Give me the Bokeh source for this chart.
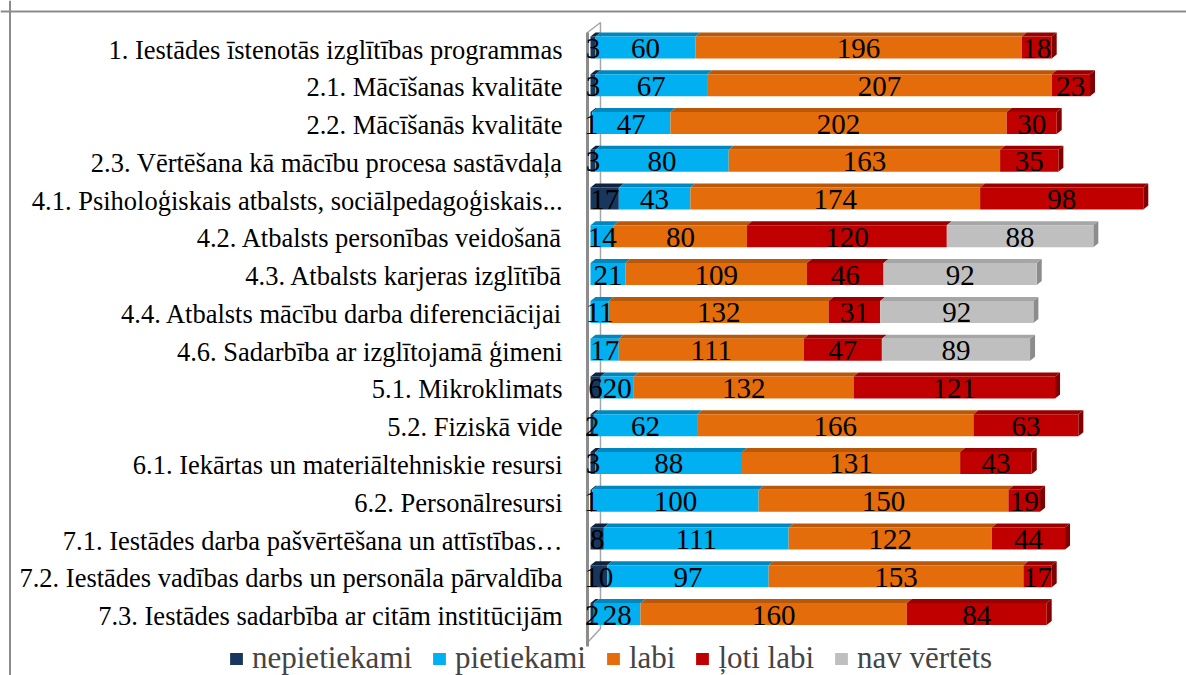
from bokeh.plotting import figure
from bokeh.models import Range1d, Span, ColumnDataSource, Legend, LegendItem
from bokeh.embed import file_html
from bokeh.resources import INLINE
from bokeh.core.properties import value

categories = [
    "1. Iestādes īstenotās izglītības programmas",
    "2.1. Mācīšanas kvalitāte",
    "2.2. Mācīšanās kvalitāte",
    "2.3. Vērtēšana kā mācību procesa sastāvdaļa",
    "4.1. Psiholoģiskais atbalsts, sociālpedagoģiskais...",
    "4.2. Atbalsts personības veidošanā",
    "4.3. Atbalsts karjeras izglītībā",
    "4.4. Atbalsts mācību darba diferenciācijai",
    "4.6. Sadarbība ar izglītojamā ģimeni",
    "5.1. Mikroklimats",
    "5.2. Fiziskā vide",
    "6.1. Iekārtas un materiāltehniskie resursi",
    "6.2. Personālresursi",
    "7.1. Iestādes darba pašvērtēšana un attīstības…",
    "7.2. Iestādes vadības darbs un personāla pārvaldība",
    "7.3. Iestādes sadarbība ar citām institūcijām",
]
series_names = ["nepietiekami", "pietiekami", "labi", "ļoti labi", "nav vērtēts"]
nepietiekami = [3, 3, 1, 3, 17, 0, 0, 0, 0, 6, 2, 3, 1, 8, 10, 2]
pietiekami = [60, 67, 47, 80, 43, 14, 21, 11, 17, 20, 62, 88, 100, 111, 97, 28]
labi = [196, 207, 202, 163, 174, 80, 109, 132, 111, 132, 166, 131, 150, 122, 153, 160]
loti_labi = [18, 23, 30, 35, 98, 120, 46, 31, 47, 121, 63, 43, 19, 44, 17, 84]
nav_vertets = [0, 0, 0, 0, 0, 88, 92, 92, 89, 0, 0, 0, 0, 0, 0, 0]

series_values = [nepietiekami, pietiekami, labi, loti_labi, nav_vertets]
front_colors = ["#17375E", "#00B0F0", "#E46C0A", "#C00000", "#BFBFBF"]
top_colors = ["#0E2340", "#0088BE", "#B85808", "#9A0000", "#A6A6A6"]
side_colors = ["#0B1B33", "#00709C", "#9C4A06", "#820000", "#8C8C8C"]

# ---- layout (pixels) ----
W, H = 1186, 675
PX = 1.665          # pixels per unit
ZERO_PX = 590       # x pixel of value 0
ROW_PX = 37.77      # row spacing
TOP_ROW_PX = 47     # y pixel (from top) of first row centre
FRONT_H = 22 / ROW_PX
DX = 5 / PX
DY = 4 / ROW_PX

n = len(categories)
x0 = -ZERO_PX / PX
x1 = x0 + W / PX
y1 = (n - 1) + TOP_ROW_PX / ROW_PX
y0 = y1 - H / ROW_PX


def page_y(py):
    return y1 - py / ROW_PX


p = figure(width=W, height=H, output_backend="svg", toolbar_location=None,
           x_range=Range1d(x0, x1), y_range=Range1d(y0, y1),
           min_border=0, min_border_left=0, min_border_right=0,
           min_border_top=0, min_border_bottom=0)
p.xaxis.visible = False
p.yaxis.visible = False
p.xgrid.visible = False
p.ygrid.visible = False
p.outline_line_color = None
p.background_fill_color = "white"
p.border_fill_color = "white"

# chart border (left and top)
p.add_layout(Span(location=x0 + 9.5 / PX, dimension="height", line_color="#8C8C8C", line_width=2))
p.add_layout(Span(location=y1 - 11 / ROW_PX, dimension="width", line_color="#8C8C8C", line_width=2))

# 3D wall
wl, wr = -1.8, 6.0
p.patch(x=[wl, wr, wr, wl], y=[page_y(32), page_y(22), page_y(628), page_y(642)],
        fill_color=None, line_color="#A6A6A6", line_width=1.5)
p.segment(x0=[wl], y0=[page_y(32)], x1=[wl], y1=[page_y(646)], line_color="#8C8C8C", line_width=3)

ys = [n - 1 - i for i in range(n)]

# top and side faces
pxs, pys, pcols = [], [], []
for i in range(n):
    left = 0
    last_j = max(j for j in range(5) if series_values[j][i] > 0)
    yc = ys[i]
    h2 = FRONT_H / 2
    for j in range(5):
        v = series_values[j][i]
        if v <= 0:
            continue
        right = left + v
        pxs.append([left, left + DX, right + DX, right])
        pys.append([yc + h2, yc + h2 + DY, yc + h2 + DY, yc + h2])
        pcols.append(top_colors[j])
        if j == last_j:
            pxs.append([right, right + DX, right + DX, right])
            pys.append([yc - h2, yc - h2 + DY, yc + h2 + DY, yc + h2])
            pcols.append(side_colors[j])
        left = right
p.patches(xs="xs", ys="ys", fill_color="c", line_color=None,
          source=ColumnDataSource(dict(xs=pxs, ys=pys, c=pcols)))

# front faces
renderers = []
lefts = [0] * n
lab_x, lab_y, lab_t = [], [], []
for j in range(5):
    vals = series_values[j]
    rights = [lefts[i] + vals[i] for i in range(n)]
    src = ColumnDataSource(dict(y=ys, left=list(lefts), right=rights))
    r = p.hbar(y="y", left="left", right="right", height=FRONT_H, source=src,
               fill_color=front_colors[j], line_color=None)
    renderers.append(r)
    for i in range(n):
        if vals[i] > 0:
            lab_x.append(lefts[i] + vals[i] / 2)
            lab_y.append(ys[i])
            lab_t.append(str(vals[i]))
    lefts = rights

p.text(x="x", y="y", text="t", source=ColumnDataSource(dict(x=lab_x, y=lab_y, t=lab_t)),
       text_font=value("Liberation Serif"), text_font_size="29px",
       text_align="center", text_baseline="middle", text_color="black", y_offset=1)

# category labels
p.text(x=[0] * n, y=ys, text=categories, x_offset=-28, y_offset=2,
       text_font=value("Liberation Serif"), text_font_size="26.5px",
       text_align="right", text_baseline="middle", text_color="black")

legend = Legend(items=[LegendItem(label=s, renderers=[r]) for s, r in zip(series_names, renderers)],
                orientation="horizontal", location=(228, -1),
                label_text_font="Liberation Serif", label_text_font_size="31px",
                glyph_width=16, glyph_height=15, label_standoff=8, spacing=19,
                padding=0, margin=0, border_line_color=None, background_fill_alpha=0)
p.add_layout(legend)

open("out.html", "w").write(file_html(p, INLINE))
